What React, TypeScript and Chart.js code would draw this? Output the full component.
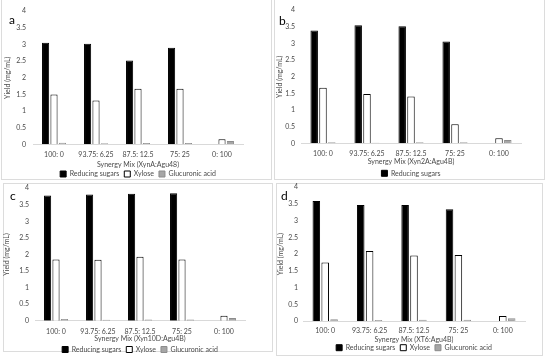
import React, { useEffect, useRef } from "react";
import { Chart, registerables } from "chart.js";

Chart.register(...registerables);

// ---- data ----
const categories = ["100: 0", "93.75: 6.25", "87.5: 12.5", "75: 25", "0: 100"];
const seriesNames = ["Reducing sugars", "Xylose", "Glucuronic acid"];
const yTicks = [0, 0.5, 1, 1.5, 2, 2.5, 3, 3.5, 4];

const aReducing = [3.05, 3.02, 2.52, 2.9, 0];
const aXylose = [1.5, 1.32, 1.67, 1.67, 0.15];
const aGlucuronic = [0.05, 0.03, 0.04, 0.04, 0.1];

const bReducing = [3.39, 3.55, 3.52, 3.06, 0];
const bXylose = [1.67, 1.48, 1.41, 0.57, 0.15];
const bGlucuronic = [0.03, 0.02, 0.03, 0.03, 0.1];

const cReducing = [3.78, 3.81, 3.83, 3.85, 0];
const cXylose = [1.85, 1.84, 1.93, 1.85, 0.15];
const cGlucuronic = [0.05, 0.03, 0.04, 0.04, 0.08];

const dReducing = [3.59, 3.47, 3.47, 3.34, 0];
const dXylose = [1.75, 2.09, 1.96, 1.97, 0.15];
const dGlucuronic = [0.05, 0.03, 0.04, 0.04, 0.08];

const FONT = "Lato";
const TXT = "#4a4a4a";
const FS = 7;
const LH = FS * 1.2;
const LEGEND_PAD = 5;

type PanelCfg = {
  letter: string;
  xTitle: string;
  reducing: number[];
  xylose: number[];
  glucuronic: number[];
  legendAll: boolean;
  cl: number; ct: number; cw: number;
  L: number; R: number; T: number; B: number;
  tickRight: number; yTitleX: number; xLabelY: number; xTitleY: number; legendY: number;
  letterX: number; letterY: number;
  box: { l: number; t: number; w: number; h: number };
};

const panels: PanelCfg[] = [
  {
    letter: "a", xTitle: "Synergy Mix (XynA:Agu48)",
    reducing: aReducing, xylose: aXylose, glucuronic: aGlucuronic, legendAll: true,
    cl: 0, ct: 0, cw: 272,
    L: 33, R: 243, T: 10, B: 144.3,
    tickRight: 26, yTitleX: 8, xLabelY: 155, xTitleY: 164.3, legendY: 174,
    letterX: 9, letterY: 13,
    box: { l: 1, t: -1, w: 271, h: 181 },
  },
  {
    letter: "b", xTitle: "Synergy Mix (Xyn2A:Agu4B)",
    reducing: bReducing, xylose: bXylose, glucuronic: bGlucuronic, legendAll: false,
    cl: 275, ct: 0, cw: 272,
    L: 301, R: 521, T: 10, B: 143.3,
    tickRight: 295, yTitleX: 280, xLabelY: 154, xTitleY: 161.7, legendY: 173.3,
    letterX: 279, letterY: 14,
    box: { l: 274, t: -1, w: 271, h: 181 },
  },
  {
    letter: "c", xTitle: "Synergy Mix (Xyn10D:Agu4B)",
    reducing: cReducing, xylose: cXylose, glucuronic: cGlucuronic, legendAll: true,
    cl: 0, ct: 178, cw: 272,
    L: 35, R: 245, T: 186, B: 320.7,
    tickRight: 29, yTitleX: 7, xLabelY: 332, xTitleY: 338.7, legendY: 349.5,
    letterX: 10, letterY: 189,
    box: { l: 3, t: 183, w: 270, h: 169 },
  },
  {
    letter: "d", xTitle: "Synergy Mix (XT6:Agu4B)",
    reducing: dReducing, xylose: dXylose, glucuronic: dGlucuronic, legendAll: true,
    cl: 275, ct: 178, cw: 272,
    L: 303, R: 525, T: 185, B: 321,
    tickRight: 298, yTitleX: 281, xLabelY: 331, xTitleY: 340, legendY: 347.7,
    letterX: 281, letterY: 189,
    box: { l: 276, t: 183, w: 267, h: 173 },
  },
];

function geometry(p: PanelCfg) {
  const yWidth = p.L - p.cl;
  const tickPad = p.L - p.tickRight;
  const yTitlePad = Math.max(0, p.yTitleX - p.cl - LH / 2);
  const padRight = p.cl + p.cw - p.R;
  const padTop = p.T - p.ct;
  // legend text centre = B + xHeight + LEGEND_PAD + FS/2
  const xHeight = p.legendY - FS / 2 - LEGEND_PAD - p.B;
  // x title centre = B + xHeight - LH/2 - titlePadBottom
  const xTitlePadBottom = p.B + xHeight - LH / 2 - p.xTitleY;
  const xTickPad = p.xLabelY - p.B - LH / 2;
  const legendH = FS + LEGEND_PAD + 10;
  const ch = Math.ceil(p.B + xHeight + legendH - p.ct + 1);
  const padBottom = p.ct + ch - (p.B + xHeight + legendH);
  return { yWidth, tickPad, yTitlePad, padRight, padTop, xHeight, xTitlePadBottom, xTickPad, ch, padBottom };
}

function Panel({ p }: { p: PanelCfg }) {
  const ref = useRef<HTMLCanvasElement | null>(null);
  const g = geometry(p);
  useEffect(() => {
    if (!ref.current) return;
    const common = { borderWidth: 1, categoryPercentage: 0.6, barPercentage: 0.85 };
    const chart = new Chart(ref.current, {
      type: "bar",
      data: {
        labels: categories,
        datasets: [
          { label: seriesNames[0], data: p.reducing, backgroundColor: "#000000", borderColor: "#000000", ...common },
          { label: seriesNames[1], data: p.xylose, backgroundColor: "#ffffff", borderColor: "#000000", ...common },
          { label: seriesNames[2], data: p.glucuronic, backgroundColor: "#a6a6a6", borderColor: "#8c8c8c", ...common },
        ],
      },
      options: {
        responsive: false,
        animation: false,
        devicePixelRatio: 1,
        layout: {
          padding: { left: 0, right: g.padRight, top: g.padTop, bottom: g.padBottom },
        },
        plugins: {
          tooltip: { enabled: false },
          title: { display: false },
          legend: {
            display: true,
            position: "bottom",
            fullSize: false,
            labels: {
              boxWidth: 6,
              boxHeight: 6,
              padding: LEGEND_PAD,
              color: TXT,
              font: { family: FONT, size: FS },
              filter: (item: any) => p.legendAll || item.datasetIndex === 0,
            },
          },
        },
        scales: {
          x: {
            grid: { display: false, drawTicks: false },
            border: { display: true, color: "#d9d9d9", width: 1 },
            ticks: {
              color: TXT,
              font: { family: FONT, size: FS },
              padding: g.xTickPad,
              maxRotation: 0,
              autoSkip: false,
            },
            title: {
              display: true,
              text: p.xTitle,
              color: TXT,
              font: { family: FONT, size: FS },
              padding: { top: 0, bottom: g.xTitlePadBottom },
            },
            afterFit: (s: any) => {
              s.height = g.xHeight;
            },
          },
          y: {
            min: 0,
            max: 4,
            grid: { display: false, drawTicks: false },
            border: { display: false },
            afterBuildTicks: (s: any) => {
              s.ticks = yTicks.map((v) => ({ value: v }));
            },
            ticks: {
              color: TXT,
              font: { family: FONT, size: FS },
              padding: g.tickPad,
              callback: (v: any) => String(Number(v)),
            },
            title: {
              display: true,
              text: "Yield (mg/mL)",
              color: TXT,
              font: { family: FONT, size: FS },
              padding: { top: g.yTitlePad, bottom: 0 },
            },
            afterFit: (s: any) => {
              s.width = g.yWidth;
            },
          },
        },
      },
    });
    return () => chart.destroy();
  }, []);
  return (
    <>
      <div
        style={{
          position: "absolute",
          left: p.box.l,
          top: p.box.t,
          width: p.box.w,
          height: p.box.h,
          border: "1px solid #dcdcdc",
          boxSizing: "border-box",
        }}
      />
      <canvas
        ref={ref}
        width={p.cw}
        height={g.ch}
        style={{ position: "absolute", left: p.cl, top: p.ct, width: p.cw, height: g.ch }}
      />
      <div
        style={{
          position: "absolute",
          left: p.letterX,
          top: p.letterY,
          fontFamily: FONT,
          fontSize: 12,
          lineHeight: "14px",
          color: "#000",
        }}
      >
        {p.letter}
      </div>
    </>
  );
}

export default function App() {
  return (
    <div
      style={{
        position: "absolute",
        left: 0,
        top: 0,
        width: 550,
        height: 363,
        background: "#ffffff",
        overflow: "hidden",
      }}
    >
      {panels.map((p) => (
        <Panel key={p.letter} p={p} />
      ))}
    </div>
  );
}
